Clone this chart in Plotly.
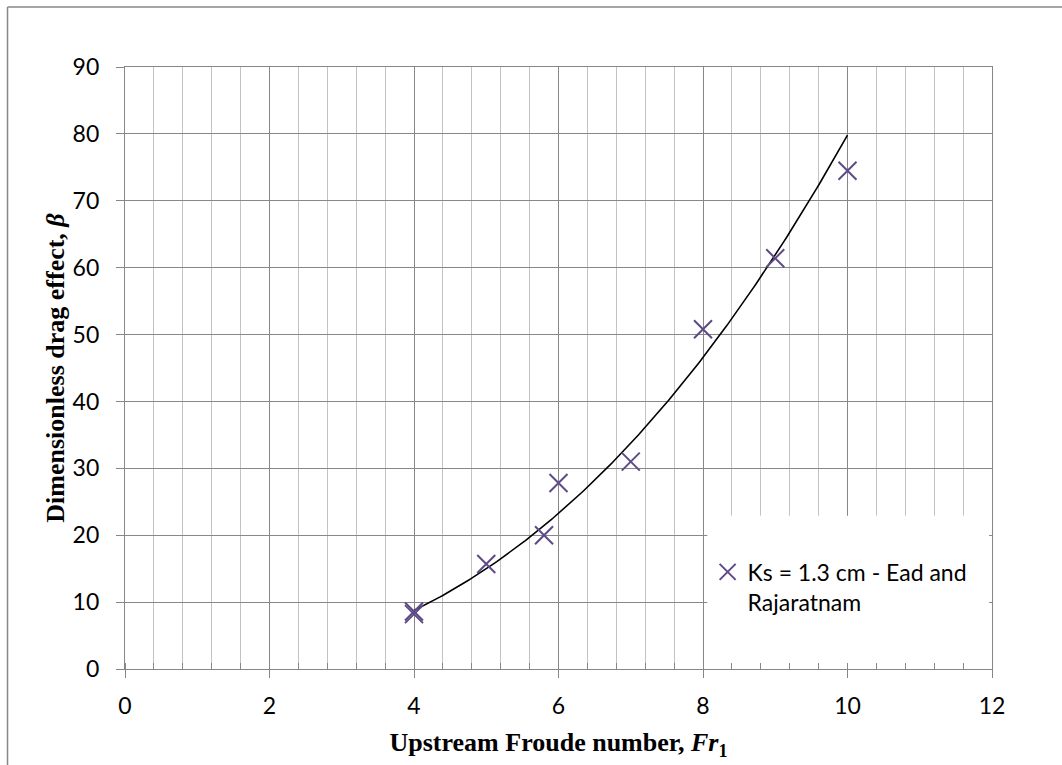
import numpy as np
import plotly.graph_objects as go

# Measured points: upstream Froude number vs dimensionless drag effect
froude = [4, 4, 5, 5.8, 6, 7, 8, 9, 10]
beta = [8.2, 8.6, 15.7, 20.0, 27.8, 31.0, 50.8, 61.4, 74.5]

series_name = "Ks = 1.3 cm - Ead and<br>Rajaratnam"

x_ticks = [0, 2, 4, 6, 8, 10, 12]
y_ticks = [0, 10, 20, 30, 40, 50, 60, 70, 80, 90]

# Power-law trendline fitted in log-log space
b, ln_a = np.polyfit(np.log(froude), np.log(beta), 1)
fit_x = np.linspace(min(froude), max(froude), 200)
fit_y = np.exp(ln_a) * fit_x ** b

MAJOR = "#878787"
MINOR = "#c3c3c3"
PURPLE = "#5e4a86"
TICK_FONT = dict(family="Lato", size=23, color="#000000")
TITLE_FONT = dict(family="Liberation Serif", size=26, color="#000000")

fig = go.Figure()

fig.add_trace(go.Scatter(
    x=fit_x, y=fit_y, mode="lines",
    line=dict(color="#000000", width=1.6),
    showlegend=False, hoverinfo="skip",
))

fig.add_trace(go.Scatter(
    x=froude, y=beta, mode="markers", name=series_name,
    marker=dict(symbol="x-thin-open", size=18, color=PURPLE,
                line=dict(color=PURPLE, width=2)),
))

# White backing for the legend area, hiding the grid behind it
fig.add_shape(type="rect", xref="x", yref="y",
              x0=8.06, x1=11.96, y0=0.35, y1=22.9,
              fillcolor="white", line=dict(width=0), layer="between")

# Outer chart frame (top and left edges)
fig.add_shape(type="line", xref="paper", yref="paper",
              x0=-0.1355, x1=1.2, y0=1.0997, y1=1.0997,
              line=dict(color=MAJOR, width=1.5))
fig.add_shape(type="line", xref="paper", yref="paper",
              x0=-0.1355, x1=-0.1355, y0=-0.3, y1=1.0997,
              line=dict(color=MAJOR, width=1.5))

fig.update_xaxes(
    range=[0, 12], tickvals=x_ticks, ticktext=[str(v) for v in x_ticks],
    showgrid=True, gridcolor=MAJOR, gridwidth=1,
    showline=True, linecolor=MAJOR, linewidth=1.3, mirror=True,
    ticks="outside", ticklen=8, tickcolor=MAJOR,
    tickfont=TICK_FONT, zeroline=False, ticklabelstandoff=8,
    minor=dict(dtick=0.4, tick0=0, showgrid=True, gridcolor=MINOR, gridwidth=1,
               ticks="inside", ticklen=6, tickcolor=MAJOR),
    title=dict(text="<b>Upstream Froude number, <i>Fr</i><sub>1</sub></b>",
               font=TITLE_FONT),
)

fig.update_yaxes(
    range=[0, 90], tickvals=y_ticks, ticktext=[str(v) for v in y_ticks],
    showgrid=True, gridcolor=MAJOR, gridwidth=1,
    showline=True, linecolor=MAJOR, linewidth=1.3, mirror=True,
    ticks="outside", ticklen=8, tickcolor=MAJOR,
    tickfont=TICK_FONT, zeroline=False, ticklabelstandoff=12,
    automargin=True,
    title=dict(text="<b>Dimensionless drag effect, <i>β</i></b>",
               font=TITLE_FONT, standoff=0),
)

fig.update_layout(
    width=1062, height=765,
    margin=dict(l=125, r=70, t=67, b=96, autoexpand=False),
    paper_bgcolor="white", plot_bgcolor="white",
    legend=dict(
        x=0.672, y=0.197, xanchor="left", yanchor="top",
        bgcolor="rgba(0,0,0,0)", borderwidth=0,
        font=dict(family="Lato", size=23, color="#000000"),
        valign="top", itemwidth=30,
    ),
)

fig.write_html("out.html")
